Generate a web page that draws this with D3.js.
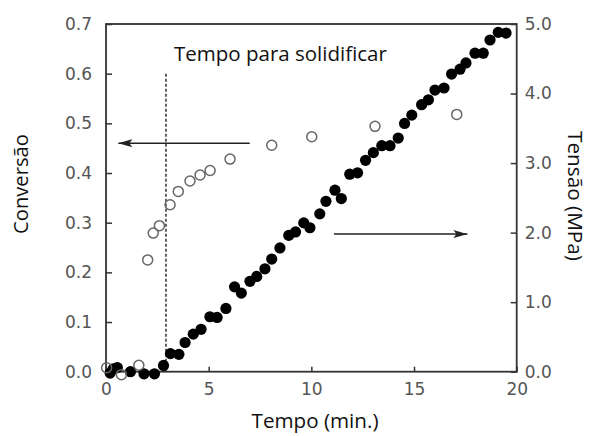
<!DOCTYPE html>
<html><head><meta charset="utf-8">
<script src="https://cdn.jsdelivr.net/npm/d3@7"></script>
<style>body{margin:0;background:#fff}</style>
</head><body>
<svg id="c" width="591" height="436"></svg>
<script>
// Conversion (open circles)
const convTime   = [0.03, 0.75, 1.6, 2.03, 2.3, 2.6, 3.12, 3.52, 4.09, 4.58, 5.07, 6.04, 8.07, 10.02, 13.1, 17.08];
const convValues = [0.008, -0.006, 0.013, 0.225, 0.279, 0.294, 0.336, 0.363, 0.384, 0.396, 0.405, 0.428, 0.456, 0.473, 0.494, 0.518];
// Tension (filled circles)
const tensTime   = [0.2, 0.35, 0.55, 1.19, 1.85, 2.36, 2.8, 3.14, 3.55, 3.85, 4.25, 4.63, 5.06, 5.41, 5.84, 6.26, 6.59, 7.01, 7.34, 7.74, 8.07, 8.47, 8.9, 9.23, 9.63, 9.93, 10.41, 10.71, 11.15, 11.46, 11.87, 12.25, 12.64, 13.02, 13.43, 13.83, 14.23, 14.54, 14.89, 15.37, 15.7, 16.02, 16.46, 16.83, 17.24, 17.53, 17.97, 18.37, 18.7, 19.1, 19.48];
const tensValues = [-0.02, 0.04, 0.06, 0.0, -0.03, -0.03, 0.09, 0.26, 0.25, 0.42, 0.54, 0.61, 0.79, 0.78, 0.91, 1.22, 1.13, 1.3, 1.37, 1.48, 1.62, 1.78, 1.96, 2.01, 2.14, 2.07, 2.27, 2.45, 2.61, 2.49, 2.84, 2.86, 3.04, 3.15, 3.25, 3.25, 3.36, 3.57, 3.69, 3.84, 3.91, 4.05, 4.08, 4.28, 4.35, 4.44, 4.58, 4.58, 4.77, 4.88, 4.87];
const xTicks = [0, 5, 10, 15, 20];
const convTicks = [0, 0.1, 0.2, 0.3, 0.4, 0.5, 0.6, 0.7];
const tensTicks = [0, 1, 2, 3, 4, 5];
// annotations
const solidTime = [2.92];          // dashed line time
const solidTop = [0.6];            // dashed line top (conversion units)
const leftArrowT = [7.0, 0.6];     // from, to (time) at conversion 0.46
const leftArrowY = [0.46];
const rightArrowT = [11.1, 17.6];  // from, to (time) at tension 1.98
const rightArrowY = [1.98];

const svg = d3.select('#c');
const L = 106, R = 516.7, T = 24, B = 371.7;
const x = d3.scaleLinear().domain([0, 20]).range([L, R]);
const yL = d3.scaleLinear().domain([0, 0.7]).range([B, T]);
const yR = d3.scaleLinear().domain([0, 5]).range([B, T]);

const tickFont = "DejaVu Sans";
const axCol = '#333';
function styleAxis(g) {
  g.select('.domain').remove();
  g.selectAll('.tick line').attr('stroke', axCol).attr('stroke-width', 1.5);
  g.selectAll('.tick text').attr('fill', '#555').style('font-family', tickFont).style('font-size', '17px');
}
svg.append('g').attr('transform', `translate(${L},0)`)
  .call(d3.axisLeft(yL).tickValues(convTicks).tickFormat(d3.format('.1f')).tickSizeInner(-6).tickSizeOuter(0).tickPadding(14))
  .call(styleAxis);
svg.append('g').attr('transform', `translate(${R},0)`)
  .call(d3.axisRight(yR).tickValues(tensTicks).tickFormat(d3.format('.1f')).tickSizeInner(-6).tickSizeOuter(0).tickPadding(8))
  .call(styleAxis);
svg.append('g').attr('transform', `translate(0,${B})`)
  .call(d3.axisBottom(x).tickValues(xTicks).tickFormat(d3.format('d')).tickSizeInner(-5).tickSizeOuter(0).tickPadding(11))
  .call(styleAxis);

// frame
svg.append('rect').attr('x', L).attr('y', T).attr('width', R - L).attr('height', B - T)
  .attr('fill', 'none').attr('stroke', axCol).attr('stroke-width', 1.8);

// dashed line
svg.append('line').attr('x1', x(solidTime[0])).attr('x2', x(solidTime[0]))
  .attr('y1', yL(solidTop[0])).attr('y2', yL(0))
  .attr('stroke', '#333').attr('stroke-width', 1.5).attr('stroke-dasharray', '3,2');

// arrows
const defs = svg.append('defs');
defs.append('marker').attr('id', 'ah').attr('viewBox', '0 0 14 8').attr('refX', 14).attr('refY', 4)
  .attr('markerWidth', 14).attr('markerHeight', 8).attr('markerUnits', 'userSpaceOnUse').attr('orient', 'auto')
  .append('path').attr('d', 'M0,0 L14,4 L0,8 L3,4 Z').attr('fill', '#222');
svg.append('line').attr('x1', x(leftArrowT[0])).attr('x2', x(leftArrowT[1]))
  .attr('y1', yL(leftArrowY[0])).attr('y2', yL(leftArrowY[0]))
  .attr('stroke', '#222').attr('stroke-width', 1.6).attr('marker-end', 'url(#ah)');
svg.append('line').attr('x1', x(rightArrowT[0])).attr('x2', x(rightArrowT[1]))
  .attr('y1', yR(rightArrowY[0])).attr('y2', yR(rightArrowY[0]))
  .attr('stroke', '#222').attr('stroke-width', 1.6).attr('marker-end', 'url(#ah)');

// points
svg.append('g').selectAll('circle').data(tensTime).join('circle')
  .attr('cx', (d) => x(d)).attr('cy', (d, i) => yR(tensValues[i])).attr('r', 5.6).attr('fill', '#000');
svg.append('g').selectAll('circle').data(convTime).join('circle')
  .attr('cx', (d) => x(d)).attr('cy', (d, i) => yL(convValues[i])).attr('r', 5)
  .attr('fill', 'none').attr('stroke', '#666').attr('stroke-width', 1.5);

// titles fitted to measured widths
const titleFont = "'Open Sans', sans-serif";
function fitText(sel, width) {
  sel.style('font-size', '100px');
  const w = sel.node().getComputedTextLength();
  sel.style('font-size', (100 * width / w) + 'px');
  return sel;
}
fitText(svg.append('text').attr('x', 174).attr('y', 61).attr('fill', '#111')
  .style('font-family', titleFont).text('Tempo para solidificar'), 213);
fitText(svg.append('text').attr('x', 315).attr('y', 428).attr('text-anchor', 'middle').attr('fill', '#111')
  .style('font-family', titleFont).text('Tempo (min.)'), 127);
fitText(svg.append('text').attr('transform', 'translate(28,184) rotate(-90)').attr('text-anchor', 'middle').attr('fill', '#111')
  .style('font-family', titleFont).text('Conversão'), 100);
fitText(svg.append('text').attr('transform', 'translate(568,196) rotate(90)').attr('text-anchor', 'middle').attr('fill', '#111')
  .style('font-family', titleFont).text('Tensão (MPa)'), 130);
</script>
</body></html>
